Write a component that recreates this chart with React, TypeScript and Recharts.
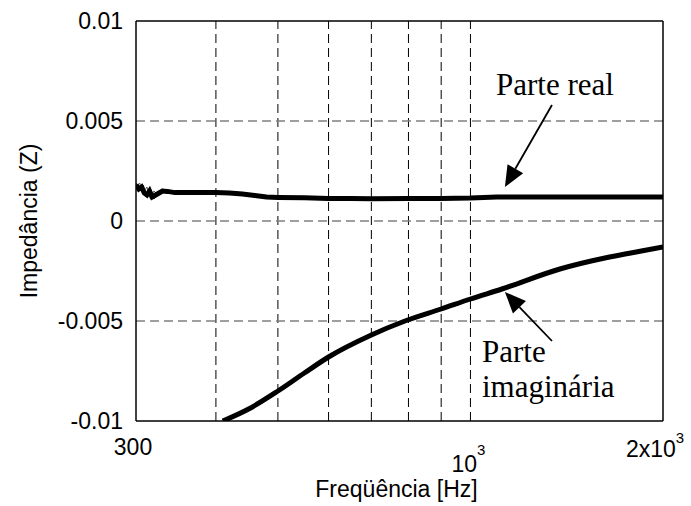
import React from "react";
import { LineChart, Line, XAxis, YAxis, ReferenceLine } from "recharts";

// frequency [Hz] / impedance
const realFreq = [300, 303, 306, 309, 312, 315, 318, 322, 326, 330, 336, 345, 360, 380, 400, 420, 440, 460, 480, 500, 550, 600, 650, 700, 800, 900, 1000, 1100, 1200, 1500, 2000];
const realZ = [0.0018, 0.0016, 0.0017, 0.0014, 0.0013, 0.0015, 0.0012, 0.0013, 0.0014, 0.0015, 0.00148, 0.00142, 0.00142, 0.00142, 0.00142, 0.0014, 0.00135, 0.00128, 0.0012, 0.00118, 0.00116, 0.00112, 0.00112, 0.00111, 0.00112, 0.00113, 0.00115, 0.0012, 0.0012, 0.0012, 0.0012];

// thin overlapping traces at the start of the sweep
const noiseFreq = [300, 304, 308, 312, 316, 320, 325, 330, 335, 340];
const noiseA = [0.0019, 0.0015, 0.0018, 0.0012, 0.0016, 0.0011, 0.0014, 0.0016, 0.0014, 0.00145];
const noiseB = [0.0017, 0.0019, 0.0014, 0.0017, 0.0011, 0.0015, 0.0013, 0.0015, 0.0015, 0.00142];

const imagFreq = [410, 450, 500, 550, 600, 700, 790, 900, 1000, 1120, 1380, 1650, 1850, 2000];
const imagZ = [-0.01, -0.0094, -0.0085, -0.0076, -0.0068, -0.0057, -0.005, -0.0044, -0.0039, -0.0034, -0.0024, -0.0018, -0.0015, -0.0013];

const xTicks = [300, 1000, 2000];
const xGrid = [400, 500, 600, 700, 800, 900, 1000];
const yTicks = [-0.01, -0.005, 0, 0.005, 0.01];
const yGrid = [-0.005, 0, 0.005];

const realData = realFreq.map((f, i) => ({ f, z: realZ[i] }));
const noiseDataA = noiseFreq.map((f, i) => ({ f, z: noiseA[i] }));
const noiseDataB = noiseFreq.map((f, i) => ({ f, z: noiseB[i] }));
const imagData = imagFreq.map((f, i) => ({ f, z: imagZ[i] }));

const SANS = "Arial, 'Liberation Sans', sans-serif";
const SERIF = "'Times New Roman', 'Liberation Serif', serif";

const XTick = (props: any) => {
    const { x, payload } = props;
    const v = payload.value;
    if (v === 300) {
        return <text x={x - 3} y={455} textAnchor="middle" fontFamily={SANS} fontSize={23} fill="#000">300</text>;
    }
    if (v === 1000) {
        return (
            <text x={x - 2} y={472} textAnchor="middle" fontFamily={SANS} fontSize={23} fill="#000">
                10<tspan dy={-17} fontSize={15}>3</tspan>
            </text>
        );
    }
    return (
        <text x={x - 8} y={457} textAnchor="middle" fontFamily={SANS} fontSize={23} fill="#000">
            2x10<tspan dy={-14} fontSize={15}>3</tspan>
        </text>
    );
};

const YTick = (props: any) => {
    const { x, y, payload } = props;
    return (
        <text x={x - 11} y={y} dy={8} textAnchor="end" fontFamily={SANS} fontSize={23} fill="#000">
            {String(payload.value)}
        </text>
    );
};

function Arrow(props: any, lines: string[], dx: number, dy: number) {
    const { x1, y1, x2, y2 } = props;
    const ang = Math.atan2(y2 - y1, x2 - x1);
    const len = 21;
    const half = 9;
    const bx = x2 - len * Math.cos(ang);
    const by = y2 - len * Math.sin(ang);
    const px = -Math.sin(ang) * half;
    const py = Math.cos(ang) * half;
    return (
        <g>
            <line x1={x1} y1={y1} x2={bx} y2={by} stroke="#000" strokeWidth={1.8} />
            <polygon points={`${x2},${y2} ${bx + px},${by + py} ${bx - px},${by - py}`} fill="#000" />
            {lines.map((t, i) => (
                <text key={t} x={x1 + dx} y={y1 + dy + i * 35} fontFamily={SERIF} fontSize={31} fill="#000">{t}</text>
            ))}
        </g>
    );
}

export default function App() {
    return (
        <div style={{ position: "absolute", left: 0, top: 0, background: "#fff" }}>
            <LineChart width={691} height={506} data={realData} margin={{ top: 21, right: 28, bottom: 0, left: 0 }}>
                <XAxis
                    dataKey="f"
                    type="number"
                    scale="log"
                    domain={[300, 2000]}
                    ticks={xTicks}
                    allowDataOverflow
                    height={85}
                    tickSize={0}
                    tick={<XTick />}
                    stroke="#000"
                    strokeWidth={1.5}
                    label={{
                        content: ({ viewBox }: any) => (
                            <text x={viewBox.x + viewBox.width / 2 - 3} y={viewBox.y + 76} textAnchor="middle" fontFamily={SANS} fontSize={23} fill="#000">
                                Freqüência [Hz]
                            </text>
                        ),
                    }}
                />
                <YAxis
                    type="number"
                    domain={[-0.01, 0.01]}
                    ticks={yTicks}
                    allowDataOverflow
                    width={136}
                    tickSize={0}
                    tick={<YTick />}
                    stroke="#000"
                    strokeWidth={1.5}
                    label={{
                        content: ({ viewBox }: any) => {
                            const cx = viewBox.x + 29;
                            const cy = viewBox.y + viewBox.height / 2;
                            return (
                                <text x={cx} y={cy} textAnchor="middle" dominantBaseline="central" transform={`rotate(-90 ${cx} ${cy})`} fontFamily={SANS} fontSize={23} fill="#000">
                                    Impedância (Z)
                                </text>
                            );
                        },
                    }}
                />

                {xGrid.map((v) => (
                    <ReferenceLine key={`gx${v}`} x={v} stroke="#000" strokeWidth={1} strokeDasharray="9 5" />
                ))}
                {yGrid.map((v) => (
                    <ReferenceLine key={`gy${v}`} y={v} stroke="#808080" strokeWidth={1.5} strokeDasharray="9 5" />
                ))}
                <ReferenceLine y={0.01} stroke="#000" strokeWidth={1.5} />
                <ReferenceLine x={2000} stroke="#000" strokeWidth={1.5} />

                <Line data={noiseDataA} dataKey="z" type="linear" stroke="#333" strokeWidth={1} dot={false} isAnimationActive={false} />
                <Line data={noiseDataB} dataKey="z" type="linear" stroke="#555" strokeWidth={1} dot={false} isAnimationActive={false} />
                <Line data={realData} dataKey="z" type="linear" stroke="#000" strokeWidth={5} dot={false} isAnimationActive={false} />
                <Line data={imagData} dataKey="z" type="monotone" stroke="#000" strokeWidth={5} dot={false} isAnimationActive={false} />

                <ReferenceLine
                    segment={[{ x: 1341, y: 0.0058 }, { x: 1132, y: 0.0017 }]}
                    shape={(p: any) => Arrow(p, ["Parte real"], -56, -10)}
                />
                <ReferenceLine
                    segment={[{ x: 1341, y: -0.006 }, { x: 1132, y: -0.00355 }]}
                    shape={(p: any) => Arrow(p, ["Parte", "imaginária"], -70, 21)}
                />
            </LineChart>
        </div>
    );
}
